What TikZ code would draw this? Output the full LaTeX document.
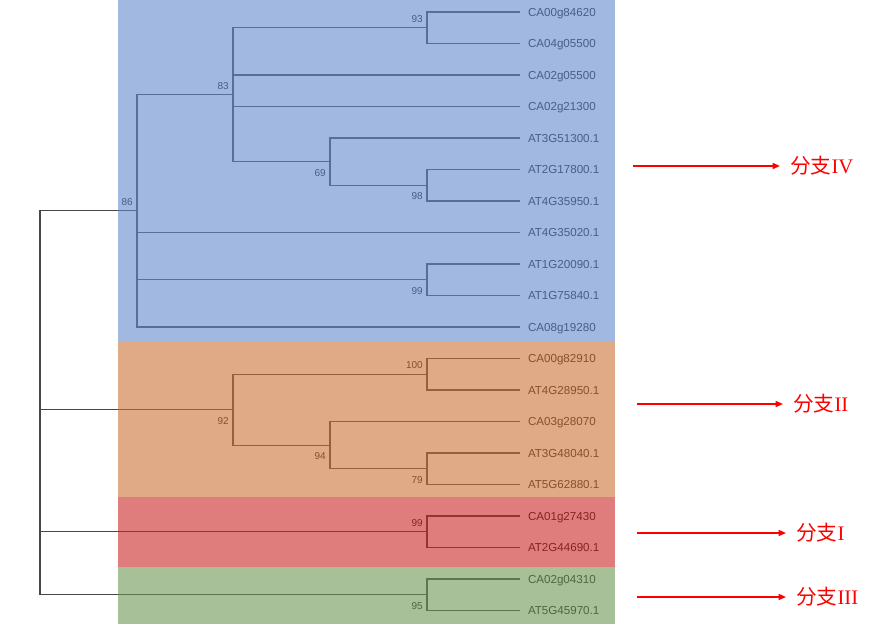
\documentclass[tikz,border=0pt]{standalone}
\usepackage{fontspec}
\setmainfont{Liberation Sans}
\newfontfamily\cjk{Noto Sans CJK SC}
\newfontfamily\romfont{Liberation Serif}
\usepackage{xcolor}
\usetikzlibrary{arrows.meta}

\definecolor{cladeblue}{RGB}{98,137,203}
\definecolor{cladeorange}{RGB}{203,113,55}
\definecolor{cladered}{RGB}{202,37,37}
\definecolor{cladegreen}{RGB}{110,150,83}

\tikzset{
	leaf/.style={anchor=west, inner xsep=5.8pt, inner ysep=0pt, text height=6.2pt, text depth=0pt,
		font=\fontsize{8.7}{10}\selectfont, text=black!88},
	edge/.style={draw=black!72, line width=0.8pt},
	boot/.style={font=\fontsize{7.5}{9}\selectfont, text=black!88, inner xsep=3pt, inner ysep=4pt},
	clade/.style={fill opacity=0.6, draw=none},
	branch/.style={red, line width=1.1pt, -{Triangle[length=5.5pt,width=4.5pt]}},
	tag/.style={anchor=west, text=red, inner xsep=7.5pt, inner ysep=0pt, font=\fontsize{15.5}{18}\selectfont},
}

\begin{document}
\begin{tikzpicture}[x=0.75pt, y=-0.75pt]
		\useasboundingbox (0,0) rectangle (886,624);
		% leaves
		\foreach \g [count=\i from 0] in {CA00g84620, CA04g05500, CA02g05500, CA02g21300,
			AT3G51300.1, AT2G17800.1, AT4G35950.1, AT4G35020.1, AT1G20090.1, AT1G75840.1,
			CA08g19280, CA00g82910, AT4G28950.1, CA03g28070, AT3G48040.1, AT5G62880.1,
			CA01g27430, AT2G44690.1, CA02g04310, AT5G45970.1}
			\node[leaf] (l\i) at (520, 12+31.5*\i) {\g};
		% inner nodes
		\coordinate (b93) at (427, 27.75);
		\coordinate (b98) at (427, 185.25);
		\coordinate (b69) at (330, 161.6);
		\coordinate (b83) at (233, 94.7);
		\coordinate (b99a) at (427, 279.75);
		\coordinate (b86) at (137, 210.8);
		\coordinate (b100) at (427, 374.25);
		\coordinate (b79) at (427, 468.75);
		\coordinate (b94) at (330, 445.1);
		\coordinate (b92) at (233, 409.7);
		\coordinate (b99b) at (427, 531.75);
		\coordinate (b95) at (427, 594.75);
		\coordinate (root) at (40, 402.8);
		% branches
		\draw[edge] (b93) |- (l0) (b93) |- (l1);
		\draw[edge] (b98) |- (l5) (b98) |- (l6);
		\draw[edge] (b69) |- (l4) (b69) |- (b98);
		\draw[edge] (b83) |- (b93) (b83) |- (l2) (b83) |- (l3) (b83) |- (b69);
		\draw[edge] (b99a) |- (l8) (b99a) |- (l9);
		\draw[edge] (b86) |- (b83) (b86) |- (l7) (b86) |- (b99a) (b86) |- (l10);
		\draw[edge] (b100) |- (l11) (b100) |- (l12);
		\draw[edge] (b79) |- (l14) (b79) |- (l15);
		\draw[edge] (b94) |- (l13) (b94) |- (b79);
		\draw[edge] (b92) |- (b100) (b92) |- (b94);
		\draw[edge] (b99b) |- (l16) (b99b) |- (l17);
		\draw[edge] (b95) |- (l18) (b95) |- (l19);
		\draw[edge] (root) |- (b86) (root) |- (b92) (root) |- (b99b) (root) |- (b95);
		% bootstrap values
		\node[boot, anchor=south east] (v93) at (b93) {93};
		\node[boot, anchor=south east] (v83) at (b83) {83};
		\node[boot, anchor=south east] (v86) at (b86) {86};
		\node[boot, anchor=south east] (v100) at (b100) {100};
		\node[boot, anchor=south east] (v99b) at (b99b) {99};
		\node[boot, anchor=north east, yshift=-1.5pt] (v98) at (b98) {98};
		\node[boot, anchor=north east, yshift=-1.5pt] (v69) at (b69) {69};
		\node[boot, anchor=north east, yshift=-1.5pt] (v99a) at (b99a) {99};
		\node[boot, anchor=north east, yshift=-1.5pt] (v92) at (b92) {92};
		\node[boot, anchor=north east, yshift=-1.5pt] (v94) at (b94) {94};
		\node[boot, anchor=north east, yshift=-1.5pt] (v79) at (b79) {79};
		\node[boot, anchor=north east, yshift=-1.5pt] (v95) at (b95) {95};
		% clade shading
		\fill[clade, cladeblue] (118,0) rectangle (615,341);
		\fill[clade, cladeorange] (118,341) rectangle (615,497);
		\fill[clade, cladered] (118,497) rectangle (615,567);
		\fill[clade, cladegreen] (118,567) rectangle (615,624);
		% branch tags
		\node[tag] (t4) at (780,166) {{\cjk 分支}\romfont IV};
		\node[tag] (t2) at (783,404) {{\cjk 分支}\romfont II};
		\node[tag] (t1) at (786,533) {{\cjk 分支}\romfont I};
		\node[tag] (t3) at (786,597) {{\cjk 分支}\romfont III};
		\coordinate (s4) at (633,166);
		\coordinate (s2) at (637,404);
		\coordinate (s1) at (637,533);
		\coordinate (s3) at (637,597);
		\draw[branch] (s4) -- (t4);
		\draw[branch] (s2) -- (t2);
		\draw[branch] (s1) -- (t1);
		\draw[branch] (s3) -- (t3);
	\end{tikzpicture}
\end{document}
